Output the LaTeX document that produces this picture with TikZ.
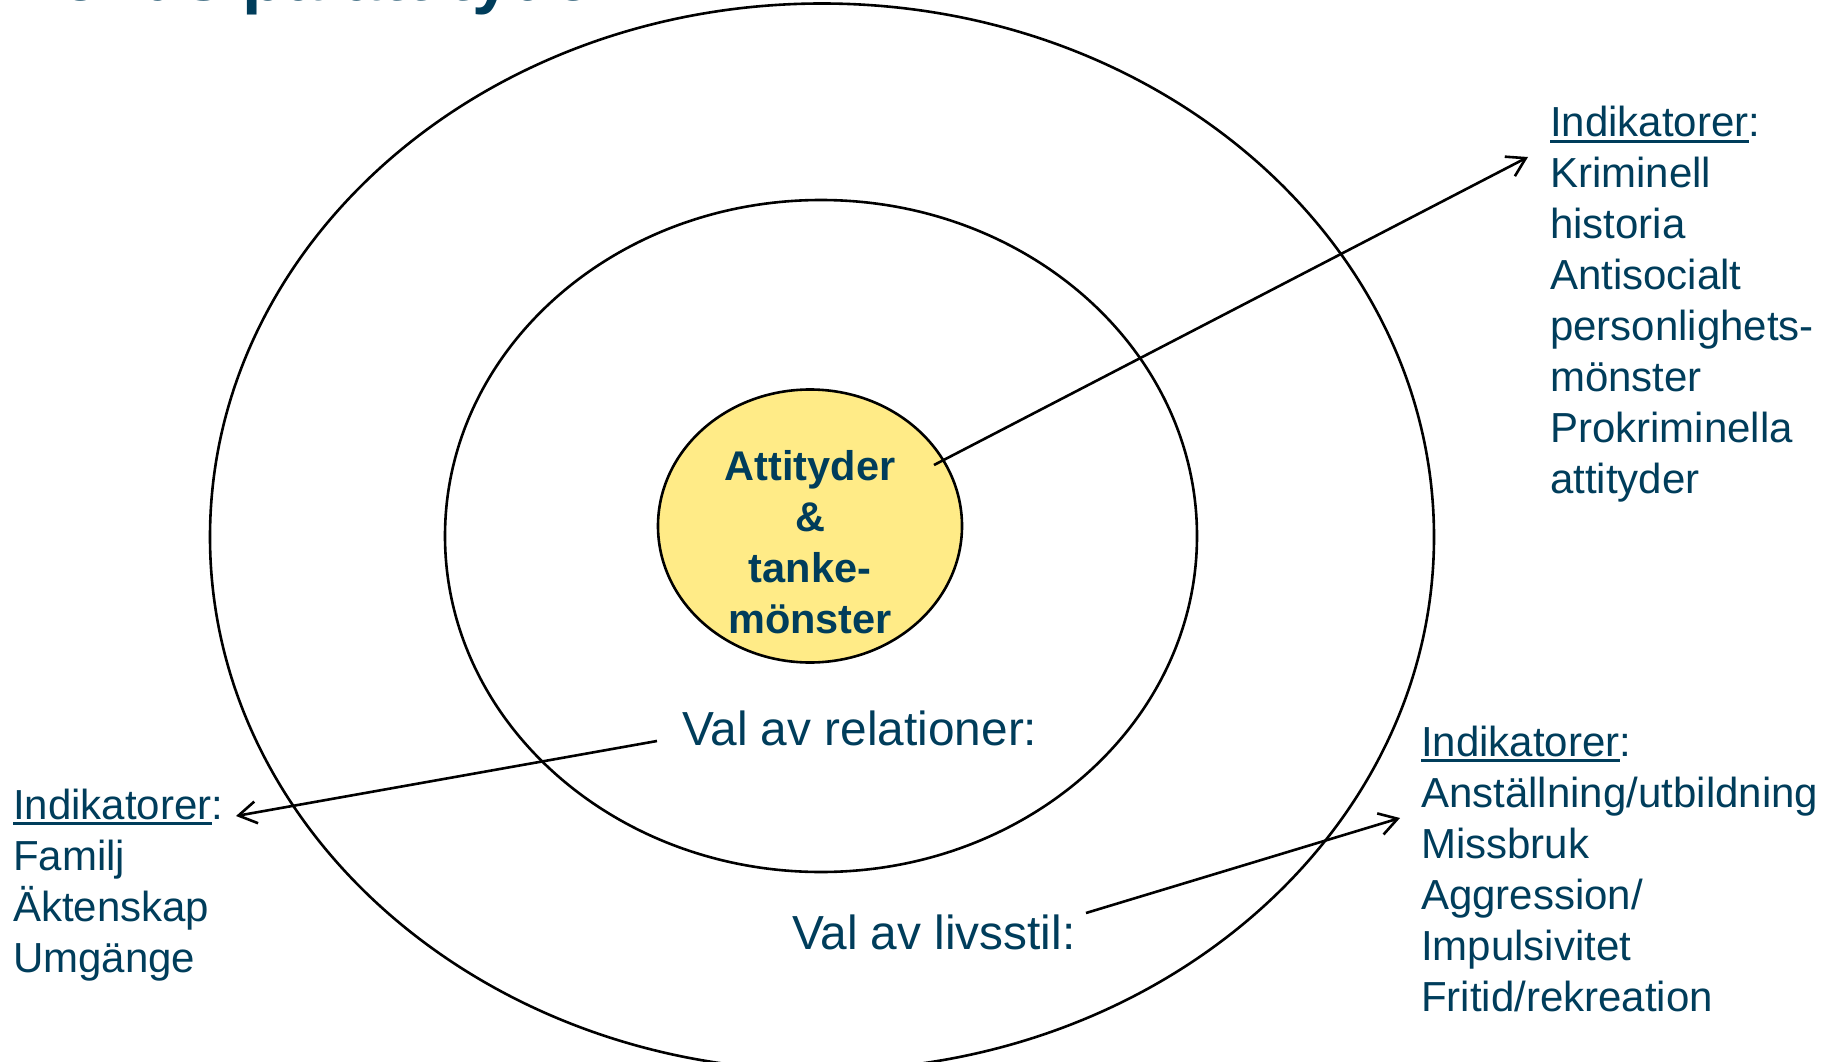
\documentclass[tikz,border=0pt]{standalone}
\usepackage{fontspec}
\setmainfont{Liberation Sans}
\usetikzlibrary{arrows.meta,shapes.geometric}
\definecolor{txt}{RGB}{0,61,91}
\definecolor{corefill}{RGB}{255,235,135}
\newcommand{\myul}[1]{\setbox0\hbox{#1}\rlap{\color{txt}\rule[-6pt]{\wd0}{2.7pt}}\box0}
\begin{document}
\begin{tikzpicture}[x=1pt,y=-1pt,
  ring/.style={ellipse, draw=black, line width=2.6pt, inner sep=0pt},
  body/.style={text=txt, inner sep=0pt, font=\fontsize{42}{51}\selectfont},
  block/.style={body, anchor=base west, align=left},
  label/.style={text=txt, inner sep=0pt, anchor=base west, font=\fontsize{47.8}{56}\selectfont},
  conn/.style={draw=black, line width=2.6pt, -{Straight Barb[length=18pt,width=22pt,line width=2.6pt]}}]
\useasboundingbox (0,0) rectangle (1837,1062);
\fill[white] (0,0) rectangle (1837,1062);
\begin{scope}
  \clip (0,0) rectangle (1837,1062);
  \node[anchor=base west, inner sep=0pt, text=txt, font=\fontsize{70}{84}\selectfont\bfseries] (title) at (17,1) {Fokus på attityder};
\end{scope}
\node[ring, minimum width=1224pt, minimum height=1067pt] (outer) at (822,537) {};
\node[ring, minimum width=752pt, minimum height=672pt] (middle) at (821,536) {};
\node[ring, fill=corefill, minimum width=304pt, minimum height=273pt] (core) at (810,526) {};
\node[text=txt, inner sep=0pt, anchor=base, text width=300pt, align=center, font=\fontsize{41.5}{51}\selectfont\bfseries] (coretext) at (810,480) {Attityder\\\&\\tanke-\\mönster};
\node[label] (rel) at (682,745) {Val av relationer:};
\node[label] (liv) at (792,949) {Val av livsstil:};
\node[block, text width=285pt] (indA) at (1550,137) {\myul{Indikatorer}:\\Kriminell\\historia\\Antisocialt\\personlighets-\\mönster\\Prokriminella\\attityder};
\node[block, text width=250pt] (indB) at (13,819) {\myul{Indikatorer}:\\Familj\\Äktenskap\\Umgänge};
\node[block, text width=420pt] (indC) at (1421,756) {\myul{Indikatorer}:\\Anställning/utbildning\\Missbruk\\Aggression/\\Impulsivitet\\Fritid/rekreation};
\coordinate (a1s) at (934,465);
\coordinate (a1e) at (1528,157);
\coordinate (a2s) at (657,741);
\coordinate (a2e) at (236,816);
\coordinate (a3s) at (1086,913);
\coordinate (a3e) at (1400,818);
\draw[conn] (a1s) -- (a1e);
\draw[conn] (a2s) -- (a2e);
\draw[conn] (a3s) -- (a3e);
\end{tikzpicture}
\end{document}
